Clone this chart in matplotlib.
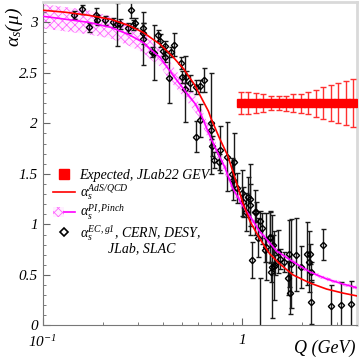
import matplotlib
matplotlib.use('Agg')
import matplotlib.pyplot as plt
from matplotlib.lines import Line2D
from matplotlib.patches import Patch
from matplotlib.legend_handler import HandlerTuple
from matplotlib.ticker import FixedLocator, FixedFormatter, MultipleLocator, NullFormatter

plt.rcParams['font.family'] = 'Liberation Serif'
plt.rcParams['font.style'] = 'italic'
plt.rcParams['mathtext.fontset'] = 'custom'
plt.rcParams['mathtext.rm'] = 'Liberation Serif:italic'
plt.rcParams['mathtext.it'] = 'Liberation Serif:italic'
plt.rcParams['hatch.linewidth'] = 0.6

# world data alpha_s^{g1} (Q in GeV)
q_data = [0.143, 0.157, 0.171, 0.186, 0.188, 0.205, 0.224, 0.235, 0.244, 0.267,
          0.279, 0.284, 0.290, 0.317, 0.317, 0.317, 0.352, 0.362, 0.380, 0.387,
          0.402, 0.410, 0.410, 0.431, 0.443, 0.455, 0.494, 0.498, 0.517, 0.523,
          0.548, 0.592, 0.619, 0.646, 0.619, 0.587, 0.704, 0.704, 0.709, 0.727,
          0.769, 0.775, 0.838, 0.917, 0.888, 0.904, 0.941, 0.997, 1.015, 1.047,
          1.076, 1.097, 1.106, 1.132, 1.162, 1.176, 1.207, 1.231, 1.231, 1.270,
          1.305, 1.320, 1.383, 1.394, 1.410, 1.427, 1.437, 1.448, 1.465, 1.522,
          1.561, 1.626, 1.709, 1.729, 1.743, 1.777, 1.883, 1.995, 2.128, 2.178,
          2.196, 2.239, 2.239, 2.562, 2.823, 3.170, 3.558]
alpha_data = [3.07, 3.13, 2.95, 3.07, 3.02, 3.02, 3.00, 2.98, 2.98, 2.94,
              3.12, 2.97, 2.99, 2.94, 2.89, 2.84, 2.71, 2.70, 2.87, 2.82,
              2.72, 2.66, 2.77, 2.45, 2.71, 2.78, 2.60, 2.46, 2.34, 2.46,
              2.40, 2.36, 2.37, 2.43, 2.03, 1.87, 2.00, 1.93, 1.78, 1.64,
              1.62, 1.74, 1.67, 1.62, 1.50, 1.44, 1.36, 1.31, 1.22, 1.12,
              1.27, 1.19, 1.25, 0.65, 1.12, 1.12, 0.87, 1.03, -0.10, 0.96,
              0.75, 0.78, 0.88, 0.87, 0.53, 0.58, 0.80, 0.59, 0.60, 0.73,
              0.66, 0.63, 0.47, 0.71, 0.32, 0.61, 0.70, 0.58, 0.71, 0.63,
              0.71, 0.53, 0.23, 0.80, 0.19, 0.20, 0.21]
err_data = [0.04, 0.045, 0.045, 0.07, 0.05, 0.045, 0.045, 0.21, 0.05, 0.05,
            0.08, 0.05, 0.05, 0.05, 0.10, 0.26, 0.05, 0.27, 0.05, 0.06,
            0.05, 0.05, 0.05, 0.25, 0.05, 0.11, 0.06, 0.06, 0.33, 0.06,
            0.08, 0.07, 0.06, 0.12, 0.16, 0.15, 0.50, 0.08, 0.10, 0.08,
            0.08, 0.23, 0.34, 0.28, 0.16, 0.20, 0.15, 0.23, 0.15, 0.19,
            0.20, 0.21, 0.35, 0.18, 0.22, 0.10, 0.19, 0.10, 0.57, 0.15,
            0.12, 0.33, 0.25, 0.25, 0.10, 0.51, 0.10, 0.34, 0.10, 0.21,
            0.10, 0.10, 0.17, 0.33, 0.21, 0.44, 0.36, 0.21, 0.31, 0.30,
            0.10, 0.10, 0.22, 0.15, 0.21, 0.23, 0.23]

# expected JLab22 points
q_jlab = [0.99, 1.08, 1.18, 1.28, 1.40, 1.53, 1.66, 1.81,
          1.98, 2.16, 2.35, 2.57, 2.80, 3.05, 3.33, 3.63]
alpha_jlab = [2.20] * 16
err_jlab = [0.112, 0.112, 0.102, 0.086, 0.071, 0.069, 0.074, 0.086,
            0.094, 0.112, 0.135, 0.160, 0.177, 0.195, 0.218, 0.239]

# AdS/QCD curve
q_ads = [0.10, 0.13, 0.17, 0.22, 0.27, 0.32, 0.39, 0.45, 0.51, 0.58, 0.62, 0.68,
         0.70, 0.77, 0.85, 0.91, 1.01, 1.10, 1.23, 1.38, 1.55, 1.81, 2.20, 2.67,
         3.23, 3.84]
alpha_ads = [3.12, 3.10, 3.07, 3.03, 2.97, 2.90, 2.78, 2.66, 2.54, 2.38, 2.27, 2.12,
             2.05, 1.86, 1.68, 1.50, 1.22, 1.03, 0.86, 0.71, 0.61, 0.50, 0.42, 0.36,
             0.32, 0.29]

# PI/Pinch curve and its band
q_pinch = [0.10, 0.12, 0.17, 0.22, 0.27, 0.32, 0.345, 0.39, 0.42, 0.45, 0.51, 0.58,
           0.62, 0.70, 0.76, 0.82, 0.90, 1.00, 1.10, 1.23, 1.38, 1.49, 1.81, 2.20,
           2.67, 3.23, 3.84]
alpha_pinch = [3.06, 3.04, 3.00, 2.95, 2.88, 2.80, 2.74, 2.65, 2.56, 2.48, 2.34, 2.20,
               2.10, 1.85, 1.70, 1.57, 1.36, 1.20, 1.08, 0.93, 0.82, 0.74, 0.63, 0.53,
               0.46, 0.41, 0.37]
band_pinch = [0.12, 0.12, 0.12, 0.11, 0.11, 0.10, 0.10, 0.09, 0.09, 0.09, 0.08, 0.08,
              0.07, 0.07, 0.06, 0.06, 0.05, 0.05, 0.04, 0.04, 0.03, 0.03, 0.03, 0.02,
              0.02, 0.02, 0.02]

fig = plt.figure(figsize=(3.6, 3.6), dpi=100)
ax = fig.add_axes([0.119, 0.096, 0.873, 0.898])

lo = [a - b for a, b in zip(alpha_pinch, band_pinch)]
hi = [a + b for a, b in zip(alpha_pinch, band_pinch)]
ax.fill_between(q_pinch, lo, hi, facecolor='#fff0ff', edgecolor='#ff66ff',
                hatch='xxxx', linewidth=0, zorder=1)

ax.errorbar(q_data, alpha_data, yerr=err_data, fmt='D', ms=3.2, mfc='none',
            mec='black', mew=1.0, ecolor='#1a1a1a', elinewidth=1.0, capsize=1.8,
            capthick=1.0, zorder=2)

ax.plot(q_pinch, alpha_pinch, color='#ff00ff', lw=1.2, zorder=3)
ax.plot(q_ads, alpha_ads, color='#ff0000', lw=1.2, zorder=4)

ax.errorbar(q_jlab, alpha_jlab, yerr=err_jlab, fmt='s', ms=5.2, color='#ff0000',
            ecolor='#ff3030', elinewidth=1.0, capsize=2.2, capthick=1.0, zorder=5)

ax.set_xscale('log')
ax.set_xlim(0.1, 3.8)
ax.set_ylim(0, 3.2)

ax.xaxis.set_major_locator(FixedLocator([0.1, 1]))
ax.xaxis.set_major_formatter(FixedFormatter([r'$10^{-1}$', '1']))
ax.xaxis.set_minor_locator(FixedLocator([0.2, 0.3, 0.4, 0.5, 0.6, 0.7, 0.8, 0.9, 2, 3]))
ax.xaxis.set_minor_formatter(NullFormatter())
ax.yaxis.set_minor_locator(MultipleLocator(0.1))
ax.set_yticks([0, 0.5, 1, 1.5, 2, 2.5, 3])
ax.set_yticklabels(['0', '0.5', '1', '1.5', '2', '2.5', '3'])

ax.tick_params(which='both', direction='in', top=False, right=False,
               labelsize=11, color='#666666')
ax.tick_params(which='major', length=5)
ax.tick_params(which='minor', length=2.5)
ax.tick_params(axis='x', pad=6)

for s in ['top', 'right']:
    ax.spines[s].set_color('#d9d9d9')
    ax.spines[s].set_linewidth(2)
for s in ['left', 'bottom']:
    ax.spines[s].set_color('#777777')
    ax.spines[s].set_linewidth(0.8)

ax.set_xlabel('Q (GeV)', fontsize=13, loc='right')
ax.xaxis.set_label_coords(0.995, -0.045)
ax.set_ylabel(r'$\alpha_s(\mu)$', fontsize=14, loc='top')
ax.yaxis.set_label_coords(-0.058, 0.985)

h_exp = Line2D([], [], marker='s', color='#ff0000', ls='none', ms=7.5)
h_ads = Line2D([], [], color='#ff0000', lw=1.2)
h_pinch = (Patch(facecolor='#fff0ff', edgecolor='#ff66ff', hatch='xxxx', lw=0),
           Line2D([], [], color='#ff00ff', lw=1.2))
h_data = Line2D([], [], marker='D', mfc='none', mec='black', mew=1.2, ls='none', ms=4.5)
labels = ['Expected, JLab22 GEV',
          r'$\alpha_s^{AdS/QCD}$',
          r'$\alpha_s^{PI,Pinch}$',
          r'$\alpha_s^{EC,g1}$, CERN, DESY,']
ax.legend([h_exp, h_ads, h_pinch, h_data], labels,
          handler_map={tuple: HandlerTuple(ndivide=None, pad=0)},
          loc='upper left', bbox_to_anchor=(0.0, 0.515), frameon=False,
          fontsize=10, handlelength=1.6, handletextpad=0.35, labelspacing=0.05,
          borderaxespad=0.3)
ax.text(0.207, 0.238, 'JLab, SLAC', transform=ax.transAxes, fontsize=10,
        va='center', ha='left')

fig.savefig('out.png', dpi=100)
